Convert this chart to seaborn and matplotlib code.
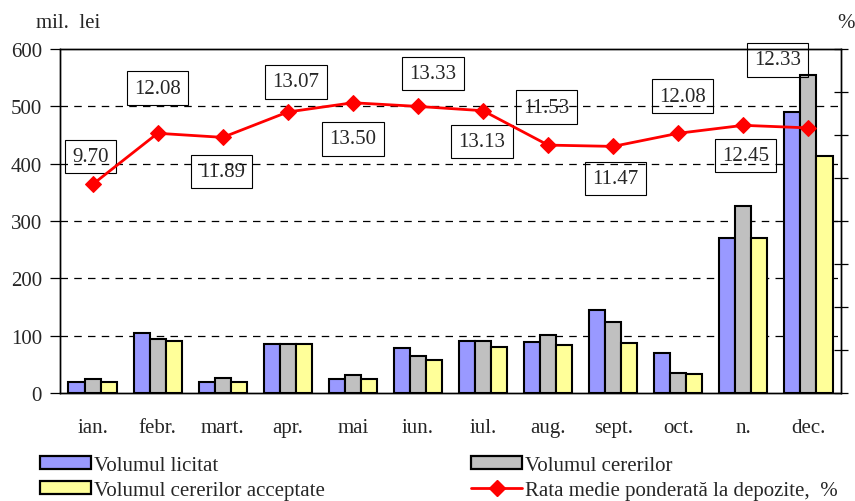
import numpy as np
import pandas as pd
import matplotlib
matplotlib.use("Agg")
import matplotlib.pyplot as plt
import seaborn as sns
from matplotlib.patches import Patch
from matplotlib.lines import Line2D

# data
luni = ["ian.", "febr.", "mart.", "apr.", "mai", "iun.", "iul.", "aug.", "sept.", "oct.", "n.", "dec."]
volum_licitat = [20, 105, 20, 85, 25, 79, 91, 89, 144, 70, 270, 490]
volum_cereri = [24, 94, 26, 85, 31, 65, 91, 101, 124, 35, 326, 555]
volum_acceptate = [20, 91, 20, 85, 25, 58, 81, 84, 88, 34, 270, 413]
rata = [9.70, 12.08, 11.89, 13.07, 13.50, 13.33, 13.13, 11.53, 11.47, 12.08, 12.45, 12.33]

serii = ["Volumul licitat", "Volumul cererilor", "Volumul cererilor acceptate"]
culori = ["#9999FF", "#C0C0C0", "#FFFF99"]
nume_rata = "Rata medie ponderată la depozite,  %"

# label box offsets (pixels) relative to each marker
label_offsets = [(-2, 28), (0, 45), (-1, -34), (8, 30), (0, -36), (15, 33),
                 (-1, -31), (-2, 38), (2, -32), (4, 37), (2, -30), (-31, 68)]

sns.set_theme(style="white")
plt.rcParams["font.family"] = ["Liberation Serif", "DejaVu Serif"]

df = pd.DataFrame({
    "luna": luni * 3,
    "valoare": volum_licitat + volum_cereri + volum_acceptate,
    "serie": [s for s in serii for _ in luni],
})

fig = plt.figure(figsize=(8.55, 5.02), dpi=100)
ax = fig.add_axes([60 / 855, 1 - 394 / 502, 781 / 855, 344 / 502])

sns.barplot(data=df, x="luna", y="valoare", hue="serie", palette=culori,
            width=0.74, edgecolor="black", linewidth=1.5, ax=ax,
            legend=False, saturation=1, zorder=3)

ax.set_xlim(-0.5, 11.5)
ax.set_ylim(0, 600)
ax.set_yticks(range(0, 601, 100))
ax.set_xlabel("")
ax.set_ylabel("")
for y in range(100, 600, 100):
    ax.axhline(y, color="black", lw=0.9, ls=(0, (6, 5)), zorder=1)

ax.set_xticks(np.arange(-0.5, 12, 1), minor=True)
ax.tick_params(axis="x", which="major", length=0, labelsize=15, pad=18)
ax.tick_params(axis="x", which="minor", length=6, width=0.9, direction="out", color="black")
ax.tick_params(axis="y", length=7, width=0.9, direction="out", labelsize=15,
               color="black", left=True, pad=6)
for s in ax.spines.values():
    s.set_color("black")
    s.set_linewidth(1)

ax2 = ax.twinx()
sns.lineplot(x=np.arange(len(luni)), y=rata, ax=ax2, color="#FF0000", lw=2,
             marker="D", markersize=8, markeredgecolor="#FF0000", zorder=5)
ax2.set_ylim(0, 16)
ax2.set_yticks(range(0, 17, 2))
ax2.set_yticklabels([])
ax2.tick_params(axis="y", direction="inout", length=10, width=0.9, color="black", right=True)
for s in ax2.spines.values():
    s.set_color("black")
    s.set_linewidth(1)

for i, (v, off) in enumerate(zip(rata, label_offsets)):
    ax2.annotate(f"{v:.2f}", xy=(i, v), xytext=off, textcoords="offset pixels",
                 ha="center", va="center", fontsize=15,
                 bbox=dict(boxstyle="square,pad=0.35", fc="none", ec="black", lw=0.8))

fig.text(36 / 855, 1 - 23 / 502, "mil.  lei", fontsize=15, va="center", ha="left")
fig.text(837 / 855, 1 - 23 / 502, "%", fontsize=15, va="center", ha="left")

h = [Patch(fc=culori[0], ec="black", lw=1.6, label=serii[0]),
     Patch(fc=culori[2], ec="black", lw=1.6, label=serii[2]),
     Patch(fc=culori[1], ec="black", lw=1.6, label=serii[1]),
     Line2D([], [], color="#FF0000", lw=2, marker="D", markersize=8, label=nume_rata)]
fig.legend(handles=h, ncol=2, loc="lower left", bbox_to_anchor=(32 / 855, -0.014),
           frameon=False, fontsize=15, handlelength=2.45, handleheight=0.6,
           handletextpad=0.15, columnspacing=7.0, labelspacing=0.28, borderaxespad=0)

fig.savefig("out.png", dpi=100)
